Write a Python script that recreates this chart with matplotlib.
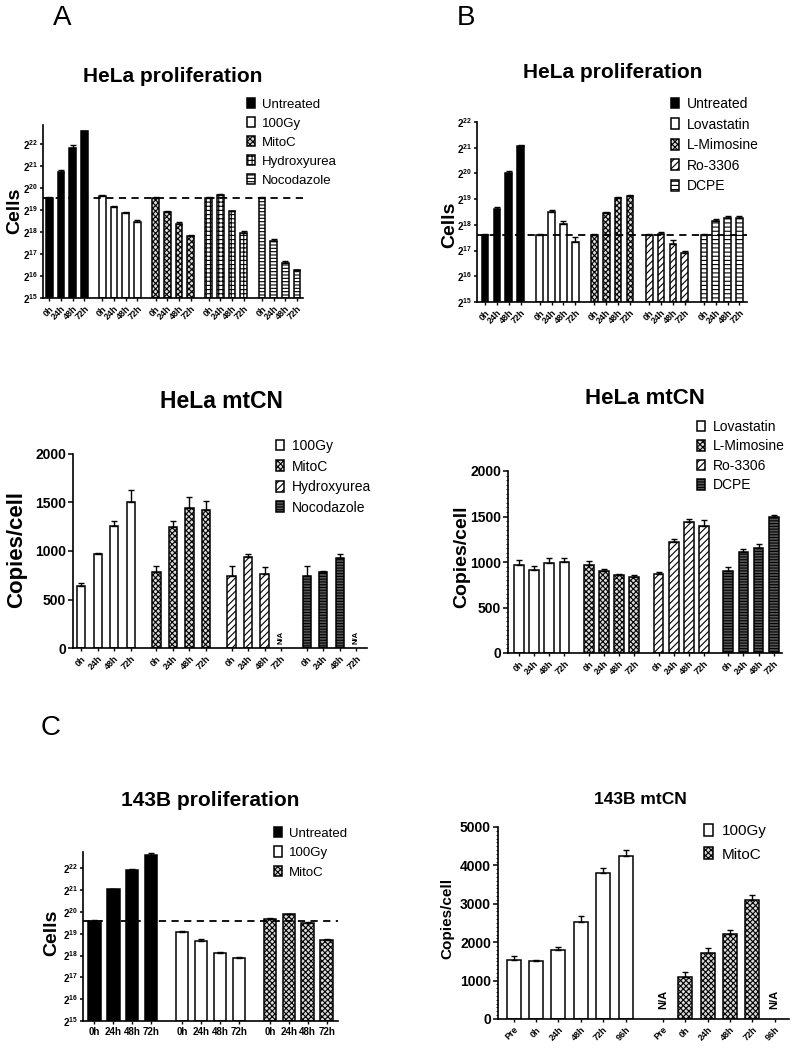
import numpy as np
import matplotlib
matplotlib.use('Agg')
import matplotlib.pyplot as plt
from matplotlib.patches import Patch
from matplotlib.ticker import MultipleLocator

plt.rcParams['font.family'] = ['Liberation Sans', 'DejaVu Sans']
plt.rcParams['mathtext.fontset'] = 'custom'
plt.rcParams['mathtext.rm'] = 'Liberation Sans'
plt.rcParams['mathtext.bf'] = 'Liberation Sans:bold'
plt.rcParams['hatch.linewidth'] = 0.8

W, H = 795, 1050

times4 = ['0h', '24h', '48h', '72h']
times6 = ['Pre', '0h', '24h', '48h', '72h', '96h']

# ---------------- Panel A, HeLa proliferation (log2 cells) ----------------
a1_groups = ['Untreated', '100Gy', 'MitoC', 'Hydroxyurea', 'Nocodazole']
a1_styles = ['solid', 'open', 'check', 'grid', 'hstripe']
a1_vals = [[19.56, 20.70, 21.82, 22.56],
           [19.63, 19.12, 18.87, 18.45],
           [19.56, 18.90, 18.35, 17.80],
           [19.56, 19.66, 18.93, 17.97],
           [19.56, 17.58, 16.57, 16.25]]
a1_errs = [[0.02, 0.10, 0.10, 0.04],
           [0.04, 0.06, 0.04, 0.07],
           [0.02, 0.05, 0.10, 0.05],
           [0.02, 0.04, 0.04, 0.07],
           [0.02, 0.08, 0.10, 0.03]]
a1_base = 19.56

# ---------------- Panel B, HeLa proliferation ----------------
b1_groups = ['Untreated', 'Lovastatin', 'L-Mimosine', 'Ro-3306', 'DCPE']
b1_styles = ['solid', 'open', 'check', 'diag', 'hstripe_light']
b1_vals = [[17.61, 18.61, 20.00, 21.05],
           [17.61, 18.49, 18.02, 17.35],
           [17.61, 18.45, 19.05, 19.14],
           [17.61, 17.65, 17.25, 16.92],
           [17.61, 18.15, 18.26, 18.26]]
b1_errs = [[0.02, 0.07, 0.09, 0.05],
           [0.02, 0.10, 0.14, 0.17],
           [0.02, 0.05, 0.04, 0.03],
           [0.02, 0.06, 0.17, 0.05],
           [0.02, 0.08, 0.10, 0.07]]
b1_base = 17.61

# ---------------- Panel A, HeLa mtCN ----------------
a2_groups = ['100Gy', 'MitoC', 'Hydroxyurea', 'Nocodazole']
a2_styles = ['open', 'check', 'diag', 'hstripe_dark']
a2_vals = [[637, 964, 1256, 1504],
           [785, 1243, 1446, 1422],
           [743, 936, 768, np.nan],
           [743, 781, 929, np.nan]]
a2_errs = [[38, 20, 55, 124],
           [65, 62, 106, 96],
           [104, 38, 62, 0],
           [104, 12, 38, 0]]

# ---------------- Panel B, HeLa mtCN ----------------
b2_groups = ['Lovastatin', 'L-Mimosine', 'Ro-3306', 'DCPE']
b2_styles = ['open', 'check', 'diag', 'hstripe_dark']
b2_vals = [[972, 910, 987, 995],
           [972, 906, 855, 840],
           [866, 1215, 1442, 1398],
           [903, 1112, 1149, 1497]]
b2_errs = [[45, 44, 52, 47],
           [37, 19, 11, 15],
           [29, 40, 33, 63],
           [40, 26, 44, 15]]

# ---------------- Panel C, 143B proliferation ----------------
c1_groups = ['Untreated', '100Gy', 'MitoC']
c1_styles = ['solid', 'open', 'check']
c1_vals = [[19.60, 21.04, 21.93, 22.60],
           [19.07, 18.66, 18.13, 17.87],
           [19.70, 19.89, 19.48, 18.70]]
c1_errs = [[0.02, 0.03, 0.05, 0.10],
           [0.05, 0.08, 0.04, 0.08],
           [0.03, 0.03, 0.04, 0.04]]
c1_base = 19.60

# ---------------- Panel C, 143B mtCN ----------------
c2_groups = ['100Gy', 'MitoC']
c2_styles = ['open', 'check']
c2_vals = [[1530, 1510, 1800, 2517, 3793, 4232],
           [np.nan, 1100, 1730, 2207, 3095, np.nan]]
c2_errs = [[105, 25, 65, 173, 129, 173],
           [0, 130, 120, 112, 146, 0]]

STYLE = {
    'solid': dict(facecolor='black', hatch=None),
    'open': dict(facecolor='white', hatch=None),
    'check': dict(facecolor='#d9d9d9', hatch='xxxxxx'),
    'grid': dict(facecolor='white', hatch='++++'),
    'hstripe': dict(facecolor='white', hatch='-----'),
    'hstripe_light': dict(facecolor='white', hatch='----'),
    'hstripe_dark': dict(facecolor='#555555', hatch='------'),
    'diag': dict(facecolor='white', hatch='/////'),
}

fig = plt.figure(figsize=(W / 100, H / 100), dpi=100)


def axes_px(left, right, top, bottom):
    return fig.add_axes([left / W, 1 - bottom / H, (right - left) / W, (bottom - top) / H])


def draw_panel(ax, groups, styles, vals, errs, labels, x0, step, width, xlim, ylim,
               lab_rot=45, lab_fs=6.5, na_y=None, na_fs=6):
    n = len(labels)
    ticks, ticklabels = [], []
    for g, (st, v, e) in enumerate(zip(styles, vals, errs)):
        pos = x0 + g * step + np.arange(n)
        v = np.asarray(v, float)
        e = np.asarray(e, float)
        ok = ~np.isnan(v)
        ax.bar(pos[ok], v[ok] - ylim[0], bottom=ylim[0], width=width,
               edgecolor='black', linewidth=1.1, zorder=2, **STYLE[st])
        ax.errorbar(pos[ok], v[ok], yerr=[np.zeros(ok.sum()), e[ok]], fmt='none',
                    ecolor='black', elinewidth=1.0, capsize=2.5, capthick=1.0, zorder=3)
        for p in pos[~ok]:
            ax.text(p, na_y, 'N/A', rotation=90, ha='center', va='center',
                    fontsize=na_fs, fontweight='bold')
        ticks.extend(pos)
        ticklabels.extend(labels)
    ax.set_xlim(*xlim)
    ax.set_ylim(*ylim)
    ax.set_xticks(ticks)
    if lab_rot:
        ax.set_xticklabels(ticklabels, rotation=lab_rot, ha='right', va='top',
                           rotation_mode='anchor', fontsize=lab_fs, fontweight='bold')
    else:
        ax.set_xticklabels(ticklabels, fontsize=lab_fs, fontweight='bold')
    for s in ['top', 'right']:
        ax.spines[s].set_visible(False)
    for s in ['left', 'bottom']:
        ax.spines[s].set_linewidth(1.2)
    ax.tick_params(axis='x', length=2.5, width=1, pad=2)
    ax.tick_params(axis='y', length=3.5, width=1.1, pad=1.5)


def log2_ticks(ax, lo, hi, fs=7):
    t = list(range(lo, hi + 1))
    ax.set_yticks(t)
    ax.set_yticklabels([r'$\mathbf{2^{%d}}$' % k for k in t], fontsize=fs)
    ax.tick_params(axis='y', length=2.5, pad=1)


def legend(ax, styles, names, px, py, fs, spacing):
    handles = [Patch(edgecolor='black', linewidth=1.1, **STYLE[s]) for s in styles]
    leg = ax.legend(handles, names, loc='upper left',
                    bbox_to_anchor=(px / W, 1 - py / H), bbox_transform=fig.transFigure,
                    frameon=False, fontsize=fs, handlelength=0.6, handleheight=0.8,
                    handletextpad=0.55, labelspacing=spacing, borderpad=0, borderaxespad=0)
    return leg


def ftext(x, y, s, **kw):
    fig.text(x / W, 1 - y / H, s, **kw)


# ---- A top
ax = axes_px(43, 303, 125, 298)
draw_panel(ax, a1_groups, a1_styles, a1_vals, a1_errs, times4, 0.54, 4.56, 0.57,
           (0, 22.3), (15, 22.85))
log2_ticks(ax, 15, 22)
ax.axhline(a1_base, color='black', lw=1.3, ls=(0, (4, 3)), zorder=4)
legend(ax, a1_styles, a1_groups, 247, 98, 9.5, 0.49)
ftext(173, 77, 'HeLa proliferation', ha='center', va='center', fontsize=15, fontweight='bold')
ftext(15, 211, 'Cells', ha='center', va='center', rotation=90, fontsize=14, fontweight='bold')

# ---- B top
ax = axes_px(477, 747, 122, 302)
draw_panel(ax, b1_groups, b1_styles, b1_vals, b1_errs, times4, 0.68, 4.62, 0.56,
           (0, 22.8), (15, 22))
log2_ticks(ax, 15, 22)
ax.axhline(b1_base, color='black', lw=1.3, ls=(0, (4, 3)), zorder=4)
legend(ax, b1_styles, b1_groups, 671, 97, 10, 0.47)
ftext(613, 72, 'HeLa proliferation', ha='center', va='center', fontsize=15, fontweight='bold')
ftext(450, 225, 'Cells', ha='center', va='center', rotation=90, fontsize=14, fontweight='bold')

# ---- A bottom
ax = axes_px(73, 367, 454, 648)
draw_panel(ax, a2_groups, a2_styles, a2_vals, a2_errs, times4, 0.5, 4.55, 0.5,
           (0, 17.8), (0, 2000), na_y=113, na_fs=5.5)
ax.set_yticks([0, 500, 1000, 1500, 2000])
ax.set_yticklabels(['0', '500', '1000', '1500', '2000'], fontsize=10, fontweight='bold')
legend(ax, a2_styles, a2_groups, 276, 439, 10, 0.47)
ftext(221, 402, 'HeLa mtCN', ha='center', va='center', fontsize=16.5, fontweight='bold')
ftext(17, 550, 'Copies/cell', ha='center', va='center', rotation=90, fontsize=16, fontweight='bold')

# ---- B bottom
ax = axes_px(508, 782, 471, 653)
draw_panel(ax, b2_groups, b2_styles, b2_vals, b2_errs, times4, 0.72, 4.6, 0.64,
           (0, 18.06), (0, 2000))
ax.set_yticks([0, 500, 1000, 1500, 2000])
ax.set_yticklabels(['0', '500', '1000', '1500', '2000'], fontsize=10, fontweight='bold')
ax.yaxis.set_minor_locator(MultipleLocator(50))
ax.tick_params(axis='y', which='minor', length=1.5, width=0.6)
legend(ax, b2_styles, b2_groups, 697, 420, 10, 0.39)
ftext(645, 398, 'HeLa mtCN', ha='center', va='center', fontsize=16, fontweight='bold')
ftext(462, 557, 'Copies/cell', ha='center', va='center', rotation=90, fontsize=14, fontweight='bold')

# ---- C left
ax = axes_px(83, 338, 852, 1021)
draw_panel(ax, c1_groups, c1_styles, c1_vals, c1_errs, times4, 0.6, 4.65, 0.67,
           (0, 13.5), (15, 22.75), lab_rot=0, lab_fs=7)
log2_ticks(ax, 15, 22)
ax.axhline(c1_base, color='black', lw=1.3, ls=(0, (4, 3)), zorder=4)
legend(ax, c1_styles, c1_groups, 274, 827, 9.5, 0.52)
ftext(210, 801, '143B proliferation', ha='center', va='center', fontsize=15, fontweight='bold')
ftext(52, 933, 'Cells', ha='center', va='center', rotation=90, fontsize=14, fontweight='bold')

# ---- C right
ax = axes_px(498, 789, 827, 1019)
draw_panel(ax, c2_groups, c2_styles, c2_vals, c2_errs, times6, 0.7, 6.66, 0.625,
           (0, 13.0), (0, 5000), na_y=520, na_fs=8)
ax.set_yticks([0, 1000, 2000, 3000, 4000, 5000])
ax.set_yticklabels(['0', '1000', '2000', '3000', '4000', '5000'], fontsize=10, fontweight='bold')
ax.yaxis.set_minor_locator(MultipleLocator(100))
ax.tick_params(axis='y', which='minor', length=1.5, width=0.6)
legend(ax, c2_styles, c2_groups, 704, 824, 11, 0.61)
ftext(640, 799, '143B mtCN', ha='center', va='center', fontsize=12.5, fontweight='bold')
ftext(447, 918, 'Copies/cell', ha='center', va='center', rotation=90, fontsize=11, fontweight='bold')

# ---- panel letters
ftext(62, 18, 'A', ha='center', va='center', fontsize=20)
ftext(466, 18, 'B', ha='center', va='center', fontsize=20)
ftext(51, 728, 'C', ha='center', va='center', fontsize=20)

fig.savefig('out.png', dpi=100)
